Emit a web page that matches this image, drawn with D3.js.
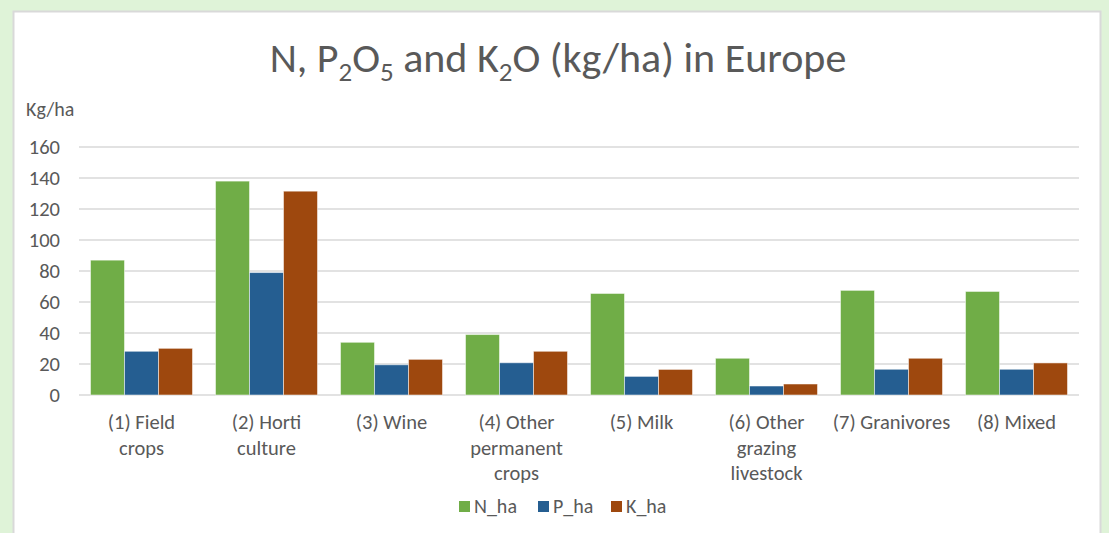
<!DOCTYPE html>
<html>
<head>
<meta charset="utf-8">
<script src="https://cdn.jsdelivr.net/npm/d3@7"></script>
<style>
  body { margin: 0; background: #dff3d8; }
  svg { display: block; }
  text { font-family: Carlito, "Open Sans", "Liberation Sans", sans-serif; fill: #595959; }
</style>
</head>
<body>
<script>
// categories and series
var categories = ["(1) Field crops", "(2) Horti culture", "(3) Wine", "(4) Other permanent crops",
                  "(5) Milk", "(6) Other grazing livestock", "(7) Granivores", "(8) Mixed"];
var categoryLines = [["(1) Field", "crops"], ["(2) Horti", "culture"], ["(3) Wine"],
                     ["(4) Other", "permanent", "crops"], ["(5) Milk"],
                     ["(6) Other", "grazing", "livestock"], ["(7) Granivores"], ["(8) Mixed"]];
var seriesNames = ["N_ha", "P_ha", "K_ha"];
var nValues = [87, 138, 34, 39, 65.5, 23.7, 67.5, 66.8];
var pValues = [28.2, 79, 19.5, 20.8, 12, 5.8, 16.6, 16.6];
var kValues = [30.1, 131.5, 23, 28.2, 16.5, 7.1, 23.7, 20.7];
var yTicks = [0, 20, 40, 60, 80, 100, 120, 140, 160];
var colors = ["#70ad47", "#255e91", "#9e480e"];

var W = 1109, H = 533;
var plot = {left: 79, right: 1079, top: 147, bottom: 395};

var svg = d3.select("body").append("svg")
    .attr("width", W)
    .attr("height", H);

// chart area
svg.append("rect")
    .attr("x", 13.5).attr("y", 11.5)
    .attr("width", 1087).attr("height", 540)
    .attr("fill", "#fff")
    .attr("stroke", "#d9d9d9")
    .attr("stroke-width", 2);

// scales
var x = d3.scaleBand().domain(categories).range([plot.left, plot.right]).paddingInner(0.184).paddingOuter(0.092);
var xs = d3.scaleBand().domain(seriesNames).range([0, x.bandwidth()]);
var y = d3.scaleLinear().domain([0, 160]).range([plot.bottom, plot.top]);

// gridlines
svg.append("g")
    .selectAll("line")
    .data(yTicks)
    .enter().append("line")
    .attr("x1", plot.left).attr("x2", plot.right)
    .attr("y1", function(d){ return y(d); })
    .attr("y2", function(d){ return y(d); })
    .attr("stroke", "#d9d9d9")
    .attr("stroke-width", 1.5);

// y axis labels
var yAxis = svg.append("g")
    .attr("transform", "translate(" + (plot.left - 19) + ",0)")
    .call(d3.axisLeft(y).tickValues(yTicks).tickSize(0).tickPadding(0));
yAxis.select(".domain").remove();
yAxis.selectAll("text")
    .style("font-size", "20.5px")
    .attr("fill", "#595959")
    .style("font-family", null);

svg.append("text")
    .attr("x", 26).attr("y", 116)
    .style("font-size", "20px")
    .text("Kg/ha");

// bars
var data = categories.map(function(c, i){
    return {cat: c, vals: [nValues[i], pValues[i], kValues[i]]};
});

var groups = svg.append("g").selectAll("g")
    .data(data)
    .enter().append("g")
    .attr("transform", function(d){ return "translate(" + x(d.cat) + ",0)"; });

groups.selectAll("rect")
    .data(function(d){ return d.vals.map(function(v, j){ return {name: seriesNames[j], v: v, j: j}; }); })
    .enter().append("rect")
    .attr("x", function(d){ return xs(d.name); })
    .attr("width", xs.bandwidth())
    .attr("y", function(d){ return y(d.v); })
    .attr("height", function(d){ return y(0) - y(d.v); })
    .attr("fill", function(d){ return colors[d.j]; })
    .attr("stroke", "rgba(255,255,255,0.5)")
    .attr("stroke-width", 1);

// category labels
var labels = svg.append("g").selectAll("text")
    .data(categories)
    .enter().append("text")
    .attr("x", function(d){ return x(d) + x.bandwidth() / 2; })
    .attr("y", 429)
    .attr("text-anchor", "middle")
    .style("font-size", "20.5px");
labels.each(function(d, i){
    var t = d3.select(this);
    categoryLines[i].forEach(function(line, k){
        t.append("tspan").attr("x", x(d) + x.bandwidth() / 2).attr("dy", k === 0 ? 0 : 25.5).text(line);
    });
});

// title
var title = svg.append("text")
    .attr("x", 558).attr("y", 72)
    .attr("text-anchor", "middle")
    .style("font-size", "42px");
title.append("tspan").text("N, P");
title.append("tspan").attr("dy", 9).style("font-size", "27px").text("2");
title.append("tspan").attr("dy", -9).text("O");
title.append("tspan").attr("dy", 9).style("font-size", "27px").text("5");
title.append("tspan").attr("dy", -9).text(" and K");
title.append("tspan").attr("dy", 9).style("font-size", "27px").text("2");
title.append("tspan").attr("dy", -9).text("O (kg/ha) in Europe");

// legend
var legendX = [459, 538, 611];
var legend = svg.append("g").selectAll("g")
    .data(seriesNames)
    .enter().append("g")
    .attr("transform", function(d, i){ return "translate(" + legendX[i] + ",501)"; });
legend.append("rect")
    .attr("width", 11).attr("height", 11)
    .attr("fill", function(d, i){ return colors[i]; });
legend.append("text")
    .attr("x", 15).attr("y", 12)
    .style("font-size", "20px")
    .text(function(d){ return d; });
</script>
</body>
</html>
